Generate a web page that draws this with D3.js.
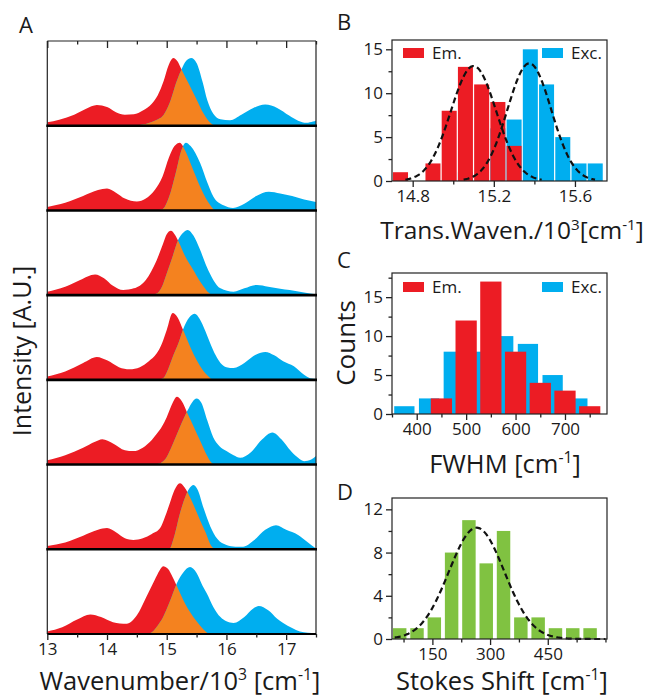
<!DOCTYPE html>
<html><head><meta charset="utf-8">
<script src="https://cdn.jsdelivr.net/npm/d3@7"></script>
<style>
body{margin:0;background:#fff}
svg{display:block}
text{font-family:"Open Sans",sans-serif;fill:#1a1a1a}
</style>
</head><body>
<svg id="fig" width="645" height="700"></svg>
<script>
// ---- Panel A: emission (red) and excitation (blue) spectra of seven molecules ----
// x in 10^3 cm^-1, y in relative intensity (0-100 of the strip height)
const em1 = [[13.0,4],[13.2,7],[13.45,13],[13.65,20],[13.83,24.5],[14.0,22],[14.15,16],[14.3,13],[14.45,13.5],[14.6,18],[14.75,26],[14.85,36],[14.95,53],[15.03,71],[15.11,80],[15.18,76],[15.25,66],[15.38,48],[15.5,31],[15.62,14],[15.72,4],[15.8,0]];
const ex1 = [[14.45,0],[14.6,1.5],[14.8,6],[14.95,13],[15.05,27],[15.17,53],[15.25,67],[15.33,77],[15.41,80],[15.5,74],[15.6,52],[15.68,30],[15.78,14],[15.9,7.5],[16.06,6.5],[16.25,13],[16.45,21],[16.65,25],[16.85,21],[17.05,12],[17.2,6],[17.34,3.5],[17.45,5],[17.5,6]];
const em2 = [[13.0,4],[13.3,9],[13.6,17],[13.85,24],[14.0,26],[14.15,21],[14.3,14],[14.5,10.5],[14.65,14],[14.8,24],[14.93,40],[15.04,63],[15.13,76],[15.22,80],[15.3,72],[15.42,52],[15.56,28],[15.65,15],[15.73,6],[15.8,0]];
const ex2 = [[14.8,0],[14.93,1.5],[15.04,16],[15.15,44],[15.25,72],[15.32,80],[15.4,76],[15.56,56],[15.68,33],[15.78,16.5],[15.95,6],[16.11,3],[16.3,8],[16.5,17],[16.71,22],[16.9,20],[17.1,17],[17.3,13],[17.5,10]];
const em3 = [[13.0,4],[13.3,10],[13.55,18],[13.8,24.5],[13.95,20],[14.1,11],[14.27,6],[14.45,8],[14.65,18],[14.83,41],[14.94,61],[15.0,72],[15.07,76],[15.14,71],[15.2,63],[15.3,47],[15.45,29],[15.55,17],[15.62,10],[15.7,3],[15.76,0]];
const ex3 = [[14.7,0],[14.83,2],[14.92,10],[15.0,25.6],[15.1,46],[15.19,65],[15.28,74],[15.35,77],[15.45,70],[15.55,55],[15.67,33.5],[15.78,18],[15.9,8],[16.12,4],[16.3,8],[16.51,12],[16.7,10],[16.9,7.5],[17.06,6],[17.3,3],[17.5,1]];
const em4 = [[13.0,4],[13.3,10],[13.6,20],[13.83,27],[14.0,23],[14.2,15],[14.38,12.5],[14.55,15],[14.7,22],[14.83,31],[14.92,43],[15.0,59],[15.1,79],[15.18,74],[15.28,58],[15.4,38],[15.5,23.5],[15.6,12],[15.7,4],[15.76,0]];
const ex4 = [[14.8,0],[14.94,2],[15.02,12],[15.1,27],[15.2,44],[15.27,59],[15.38,74],[15.47,78],[15.55,72],[15.65,57],[15.73,43],[15.82,29],[15.9,20],[16.0,15],[16.12,14],[16.3,20],[16.5,30],[16.65,33],[16.8,29],[16.95,22],[17.13,16],[17.3,6],[17.4,2],[17.5,1]];
const em5 = [[13.0,5],[13.3,11],[13.6,20],[13.8,27],[13.92,30],[14.1,25],[14.3,17],[14.44,16],[14.6,20],[14.75,29],[14.83,36],[14.92,45],[15.0,56],[15.1,73],[15.17,80],[15.25,75],[15.35,60],[15.45,45],[15.56,28],[15.65,14],[15.73,4],[15.78,0]];
const ex5 = [[14.75,0],[14.9,2],[15.0,9],[15.1,24],[15.22,44],[15.35,64],[15.43,74],[15.5,78],[15.58,73],[15.68,52],[15.78,32],[15.88,22],[16.0,16],[16.12,11],[16.23,8],[16.4,14],[16.6,30],[16.77,38],[16.92,30],[17.08,16],[17.2,8],[17.3,4],[17.42,6],[17.5,10]];
const em6 = [[13.0,4],[13.3,8],[13.6,16],[13.85,23],[14.0,25],[14.15,20],[14.3,13],[14.44,11],[14.6,13],[14.75,18],[14.89,25],[14.97,38],[15.05,54],[15.13,70],[15.22,78],[15.3,73],[15.4,60],[15.5,44],[15.56,34],[15.65,20],[15.73,6],[15.8,0]];
const ex6 = [[14.9,0],[15.05,1],[15.12,14],[15.22,42],[15.3,60],[15.37,71],[15.45,76],[15.52,70],[15.62,48],[15.73,27],[15.85,12],[16.0,5],[16.15,3],[16.28,3],[16.45,10],[16.65,23],[16.83,28.5],[17.0,23],[17.2,17],[17.35,9],[17.5,1]];
const em7 = [[13.0,3],[13.25,8],[13.5,17],[13.72,23],[13.9,20],[14.1,14],[14.33,12],[14.5,22],[14.66,44],[14.8,64],[14.88,75],[14.94,80],[15.02,77],[15.1,67],[15.2,52],[15.3,37],[15.39,26],[15.5,15],[15.62,5],[15.7,0]];
const ex7 = [[14.6,0],[14.72,1],[14.85,10],[14.94,20],[15.05,38],[15.17,60],[15.28,73],[15.39,79],[15.5,72],[15.6,57],[15.67,48],[15.78,32],[15.9,20],[16.0,15],[16.12,13],[16.3,20],[16.45,30],[16.54,33],[16.7,28],[16.85,18],[16.95,13],[17.1,7],[17.23,3],[17.5,1]];
const emissionSpectra = [em1, em2, em3, em4, em5, em6, em7];
const excitationSpectra = [ex1, ex2, ex3, ex4, ex5, ex6, ex7];
const wavenumberTicks = [13, 14, 15, 16, 17];

// ---- Panel B: transition wavenumber histogram (bin centres in 10^3 cm^-1) ----
const transBins = [14.74, 14.82, 14.90, 14.98, 15.06, 15.14, 15.22, 15.30, 15.38, 15.46, 15.54, 15.62, 15.70];
const transEm   = [1, 0, 2, 8, 13, 11, 9, 4, 0, 0, 0, 0, 0];
const transExc  = [0, 0, 0, 0, 1, 0, 6, 7, 15, 11, 5, 2, 2];
const transTicks = [14.8, 15.2, 15.6];
const transFitEm  = {mean: 15.10, sigma: 0.112, amp: 13.1};
const transFitExc = {mean: 15.375, sigma: 0.108, amp: 13.4};

// ---- Panel C: FWHM histogram (cm^-1) ----
const fwhmEmBins  = [450, 500, 550, 600, 650, 700, 750];
const fwhmEm      = [2, 12, 17, 8, 4, 3, 1];
const fwhmExcBins = [375, 425, 475, 525, 575, 625, 675, 725];
const fwhmExc     = [1, 2, 8, 8, 10, 9, 5, 2];
const fwhmTicks = [400, 500, 600, 700];

// ---- Panel D: Stokes shift histogram (cm^-1) ----
const stokesBins = [65, 110, 155, 200, 245, 290, 335, 380, 425, 470, 515, 560];
const stokesCounts = [1, 1, 2, 8, 11, 7, 10, 2, 2, 1, 1, 1];
const stokesTicks = [150, 300, 450];
const stokesFit = {mean: 265, sigma: 72, amp: 10.3};

const RED = "#ec1c24", BLUE = "#00aeef", ORANGE = "#f4821f", GREEN = "#80c241";
const TITLE = 25.5, TICK = 17;

const svg = d3.select("#fig");

// ---------- Panel A ----------
const A = {left: 47.3, right: 316, top: 41, bottom: 634};
const nStrips = emissionSpectra.length;
const stripH = (A.bottom - A.top) / nStrips;
const xA = d3.scaleLinear().domain([13, 17.5]).range([A.left, A.right]);

svg.append("defs").append("clipPath").attr("id", "clipA")
  .append("rect").attr("x", A.left).attr("y", A.top).attr("width", A.right - A.left).attr("height", A.bottom - A.top);

const gA = svg.append("g");
emissionSpectra.forEach((em, i) => {
  const ex = excitationSpectra[i];
  const base = A.top + stripH * (i + 1);
  const y = d3.scaleLinear().domain([0, 100]).range([base, base - stripH]);
  const area = d3.area().x(d => xA(d[0])).y0(y(0)).y1(d => y(d[1])).curve(d3.curveMonotoneX);
  const g = gA.append("g").attr("clip-path", "url(#clipA)");
  const cid = "emclip" + i;
  g.append("clipPath").attr("id", cid).append("path").attr("d", area(em));
  g.append("path").attr("d", area(em)).attr("fill", RED);
  g.append("path").attr("d", area(ex)).attr("fill", BLUE);
  // overlap of the two spectra
  g.append("path").attr("d", area(ex)).attr("fill", ORANGE).attr("clip-path", `url(#${cid})`);
});

// frame and strip separators
const edge = (x1, y1, x2, y2, w) => gA.append("line").attr("x1", x1).attr("y1", y1).attr("x2", x2).attr("y2", y2).attr("stroke", "#222").attr("stroke-width", w);
edge(A.left, A.top, A.left, A.bottom, 1.2);
edge(A.right, A.top, A.right, A.bottom, 1.2);
edge(A.left, A.top, A.right, A.top, 1.2);
d3.range(1, nStrips).forEach(i => {
  const yy = A.top + stripH * i;
  gA.append("line").attr("x1", A.left - 1).attr("x2", A.right + 1).attr("y1", yy).attr("y2", yy).attr("stroke", "#000").attr("stroke-width", 2.6);
});

// top inward ticks
const halfTicks = d3.range(13.5, 17.51, 1);
gA.append("g").attr("transform", `translate(0,${A.top})`)
  .call(d3.axisTop(xA).tickValues(wavenumberTicks).tickSize(-7).tickFormat(""))
  .call(g => g.select(".domain").remove());
gA.append("g").attr("transform", `translate(0,${A.top})`)
  .call(d3.axisTop(xA).tickValues(halfTicks).tickSize(-3.5).tickFormat(""))
  .call(g => g.select(".domain").remove());

// bottom axis
const axA = gA.append("g").attr("transform", `translate(0,${A.bottom})`)
  .call(d3.axisBottom(xA).tickValues(wavenumberTicks).tickSize(6).tickPadding(3).tickFormat(d3.format("d")));
axA.select(".domain").attr("stroke-width", 1.8).attr("d", `M${A.left},0H${A.right}`);
axA.selectAll("text").attr("font-size", TICK).attr("font-family", "Open Sans");
gA.append("g").attr("transform", `translate(0,${A.bottom})`)
  .call(d3.axisBottom(xA).tickValues(halfTicks).tickSize(3.5).tickFormat(""))
  .call(g => g.select(".domain").remove());

// ---------- histogram panel helpers ----------
function frame(g, box) {
  g.append("rect").attr("x", box.left).attr("y", box.top).attr("width", box.right - box.left)
    .attr("height", box.bottom - box.top).attr("fill", "none").attr("stroke", "#222").attr("stroke-width", 1.2);
}
function yAxis(g, box, y, major, minor) {
  const a = g.append("g").attr("transform", `translate(${box.left},0)`)
    .call(d3.axisLeft(y).tickValues(major).tickSize(6).tickPadding(3));
  a.select(".domain").remove();
  a.selectAll("text").attr("font-size", TICK).attr("font-family", "Open Sans");
  g.append("g").attr("transform", `translate(${box.left},0)`)
    .call(d3.axisLeft(y).tickValues(minor).tickSize(3.5).tickFormat(""))
    .call(s => s.select(".domain").remove());
}
function xAxis(g, box, x, major, minor, fmt) {
  const a = g.append("g").attr("transform", `translate(0,${box.bottom})`)
    .call(d3.axisBottom(x).tickValues(major).tickSize(6).tickPadding(3).tickFormat(fmt));
  a.select(".domain").remove();
  a.selectAll("text").attr("font-size", TICK).attr("font-family", "Open Sans");
  g.append("g").attr("transform", `translate(0,${box.bottom})`)
    .call(d3.axisBottom(x).tickValues(minor).tickSize(3.5).tickFormat(""))
    .call(s => s.select(".domain").remove());
}
function legendItem(g, x, y, color, label) {
  g.append("rect").attr("x", x).attr("y", y - 10).attr("width", 21).attr("height", 10).attr("fill", color);
  g.append("text").attr("x", x + 29).attr("y", y + 1).attr("font-size", 17).text(label);
}
function superTitle(g, x, y, parts, size) {
  const t = g.append("text").attr("x", x).attr("y", y).attr("text-anchor", "middle").attr("font-size", size);
  parts.forEach(p => {
    if (p.sup) t.append("tspan").attr("dy", -size * 0.38).attr("font-size", size * 0.62).text(p.sup);
    else t.append("tspan").attr("dy", p.reset ? size * 0.38 : 0).text(p.t);
  });
}
function gaussPath(fit, x, y, lo, hi) {
  const pts = d3.range(lo, hi + 1e-9, (hi - lo) / 200).map(v => [v, fit.amp * Math.exp(-0.5 * ((v - fit.mean) / fit.sigma) ** 2)]);
  return d3.line().x(d => x(d[0])).y(d => y(d[1]))(pts);
}
const dashFit = p => p.attr("fill", "none").attr("stroke", "#111").attr("stroke-width", 2.2).attr("stroke-dasharray", "6,3.5");

// ---------- Panel B ----------
const B = {left: 392, right: 607, top: 40, bottom: 181};
const gB = svg.append("g");
const xB = d3.scaleLinear().domain([14.698, 15.758]).range([B.left, B.right]);
const yB = d3.scaleLinear().domain([0, 16.06]).range([B.bottom, B.top]);
const bwB = 0.074;
gB.selectAll(".bexc").data(transBins.map((c, i) => [c, transExc[i]]).filter(d => d[1] > 0)).join("rect")
  .attr("x", d => xB(d[0] - bwB / 2)).attr("width", xB(bwB) - xB(0))
  .attr("y", d => yB(d[1])).attr("height", d => yB(0) - yB(d[1])).attr("fill", BLUE);
gB.selectAll(".bem").data(transBins.map((c, i) => [c, transEm[i]]).filter(d => d[1] > 0)).join("rect")
  .attr("x", d => xB(d[0] - bwB / 2)).attr("width", xB(bwB) - xB(0))
  .attr("y", d => yB(d[1])).attr("height", d => yB(0) - yB(d[1])).attr("fill", RED);
[transFitEm, transFitExc].forEach(f => {
  gB.append("path").attr("d", gaussPath(f, xB, yB, f.mean - 3 * f.sigma, f.mean + 3 * f.sigma)).call(dashFit);
});
frame(gB, B);
yAxis(gB, B, yB, [0, 5, 10, 15], [2.5, 7.5, 12.5]);
xAxis(gB, B, xB, transTicks, [15.0, 15.4], d3.format(".1f"));
legendItem(gB, 403, 58, RED, "Em.");
legendItem(gB, 542, 58, BLUE, "Exc.");
superTitle(gB, 512, 239, [{t: "Trans.Waven./10"}, {sup: "3"}, {t: "[cm", reset: true}, {sup: "-1"}, {t: "]", reset: true}], 24.5);

// ---------- Panel C ----------
const C = {left: 392, right: 607, top: 273, bottom: 414};
const gC = svg.append("g");
const xC = d3.scaleLinear().domain([350, 785]).range([C.left, C.right]);
const yC = d3.scaleLinear().domain([0, 18.1]).range([C.bottom, C.top]);
gC.selectAll(".cexc").data(fwhmExcBins.map((c, i) => [c, fwhmExc[i]])).join("rect")
  .attr("x", d => xC(d[0] - 20.5)).attr("width", xC(41) - xC(0))
  .attr("y", d => yC(d[1])).attr("height", d => yC(0) - yC(d[1])).attr("fill", BLUE);
gC.selectAll(".cem").data(fwhmEmBins.map((c, i) => [c, fwhmEm[i]])).join("rect")
  .attr("x", d => xC(d[0] - 21.5)).attr("width", xC(43) - xC(0))
  .attr("y", d => yC(d[1])).attr("height", d => yC(0) - yC(d[1])).attr("fill", RED);
frame(gC, C);
yAxis(gC, C, yC, [0, 5, 10, 15], [2.5, 7.5, 12.5, 17.5]);
xAxis(gC, C, xC, fwhmTicks, [350, 450, 550, 650, 750], d3.format("d"));
legendItem(gC, 403, 292, RED, "Em.");
legendItem(gC, 542, 292, BLUE, "Exc.");
superTitle(gC, 505, 473, [{t: "FWHM [cm"}, {sup: "-1"}, {t: "]", reset: true}], TITLE);

// ---------- Panel D ----------
const D = {left: 392, right: 607, top: 498, bottom: 639};
const gD = svg.append("g");
const xD = d3.scaleLinear().domain([45, 604]).range([D.left, D.right]);
const yD = d3.scaleLinear().domain([0, 13.05]).range([D.bottom, D.top]);
gD.selectAll(".dbar").data(stokesBins.map((c, i) => [c, stokesCounts[i]])).join("rect")
  .attr("x", d => xD(d[0] - 17.5)).attr("width", xD(35) - xD(0))
  .attr("y", d => yD(d[1])).attr("height", d => yD(0) - yD(d[1])).attr("fill", GREEN);
gD.append("path").attr("d", gaussPath(stokesFit, xD, yD, 52, 600)).call(dashFit);
frame(gD, D);
yAxis(gD, D, yD, [0, 4, 8, 12], [2, 6, 10]);
xAxis(gD, D, xD, stokesTicks, [75, 225, 375, 525, 600], d3.format("d"));
superTitle(gD, 502, 690, [{t: "Stokes Shift [cm"}, {sup: "-1"}, {t: "]", reset: true}], TITLE);

svg.selectAll(".tick line").attr("stroke", "#222").attr("stroke-width", 1.3);

// ---------- panel letters and shared titles ----------
svg.append("text").attr("x", 19).attr("y", 33).attr("font-size", 22).text("A");
svg.append("text").attr("x", 337).attr("y", 30).attr("font-size", 22).text("B");
svg.append("text").attr("x", 337).attr("y", 268).attr("font-size", 22).text("C");
svg.append("text").attr("x", 337).attr("y", 500).attr("font-size", 22).text("D");
superTitle(svg, 180, 690, [{t: "Wavenumber/10"}, {sup: "3"}, {t: " [cm", reset: true}, {sup: "-1"}, {t: "]", reset: true}], TITLE);
svg.append("text").attr("transform", "translate(31,351) rotate(-90)").attr("text-anchor", "middle").attr("font-size", 25).text("Intensity [A.U.]");
svg.append("text").attr("transform", "translate(355,343) rotate(-90)").attr("text-anchor", "middle").attr("font-size", 26).text("Counts");
</script>
</body></html>
